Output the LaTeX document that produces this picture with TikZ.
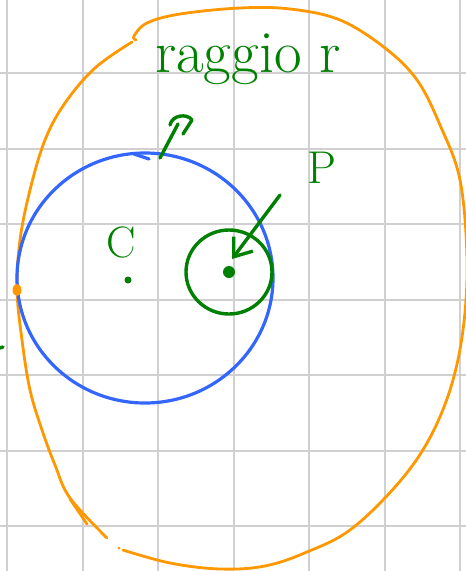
\documentclass[tikz,border=0pt]{standalone}
\usepackage{tikz}
\usetikzlibrary{positioning,arrows.meta}
\definecolor{arancio}{RGB}{255,152,0}
\definecolor{blu}{RGB}{51,102,255}
\definecolor{verde}{RGB}{0,128,0}
\definecolor{griglia}{RGB}{208,208,208}

\begin{document}
\begin{tikzpicture}[x=1pt, y=-1pt, line cap=round, line join=round]

	% Stili per griglia, curve e scritte
	\tikzset{
		quadretto/.style={griglia, line width=2pt},
		bordo/.style={arancio, line width=2.8pt},
		cerchio/.style={blu, line width=3.2pt},
		segno/.style={verde, line width=3.4pt},
		etichetta/.style={verde, inner sep=0pt}
	}

	\useasboundingbox (0,0) rectangle (466,571);

	% Griglia del quaderno
	\foreach \x in {7,82.5,...,470} \draw[quadretto] (\x,0) -- (\x,571);
	\foreach \y in {-2.5,73,...,571} \draw[quadretto] (0,\y) -- (466,\y);

	% Punti principali
	\coordinate (centro) at (145,278);
	\coordinate (c) at (128,280);
	\coordinate (p) at (229,272);
	\coordinate (coda) at (280,195);
	\coordinate (punta) at (232,259);
	\coordinate (bordosx) at (17,290);

	% Curva arancione (con interruzione in basso a sinistra)
	\draw[bordo] plot[smooth, tension=0.6] coordinates {
		(136,40) (134,36) (147,23) (180,14) (240,8) (290,9) (340,20)
		(385,48) (417,80) (440,125) (460,180) (467,260) (463,330)
		(450,390) (427,443) (395,487) (350,530) (307,552) (265,566)
		(220,569) (170,563) (123,550)};
	\draw[bordo] plot[smooth, tension=0.6] coordinates {
		(132,42) (95,68) (65,103) (45,140) (30,190) (20,240) (17,290)
		(22,340) (30,390) (42,430) (55,465) (70,498) (107,538)};
	\draw[bordo] (70,499) -- (87,524);
	\fill[arancio] (119,548) circle (1.5);

	% Cerchio blu
	\draw[cerchio] (centro) ellipse [x radius=128, y radius=125];
	\draw[cerchio] (134,154) -- (149,159);
	\fill[arancio] (bordosx) ellipse [x radius=4.5, y radius=6];

	% Cerchietto verde attorno a P
	\draw[segno] (p) ellipse [x radius=43, y radius=42];
	\fill[verde] (p) circle (6);
	\draw[segno, -{Straight Barb[length=16pt, width=24pt]}] (coda) -- (punta);

	% Freccetta verso l'alto
	\coordinate (piede) at (160,158);
	\coordinate (cima) at (178,124);
	\draw[segno] (piede) -- (cima);
	\draw[segno] (170,125) .. controls (172,115) and (187,113) .. (192,120) -- (183,134);

	% Scritte
	\node[etichetta, anchor=base west, font=\fontsize{60}{60}\selectfont] (raggio) at (155,72) {raggio r};
	\fill[verde] (c) circle (3.5);
	\node[etichetta, font=\fontsize{44}{44}\selectfont] (lblc) at (121,242) {C};
	\node[etichetta, font=\fontsize{46}{46}\selectfont] (lblp) at (322,168) {P};
	\draw[segno] (0,348) -- (3,347);

\end{tikzpicture}
\end{document}
